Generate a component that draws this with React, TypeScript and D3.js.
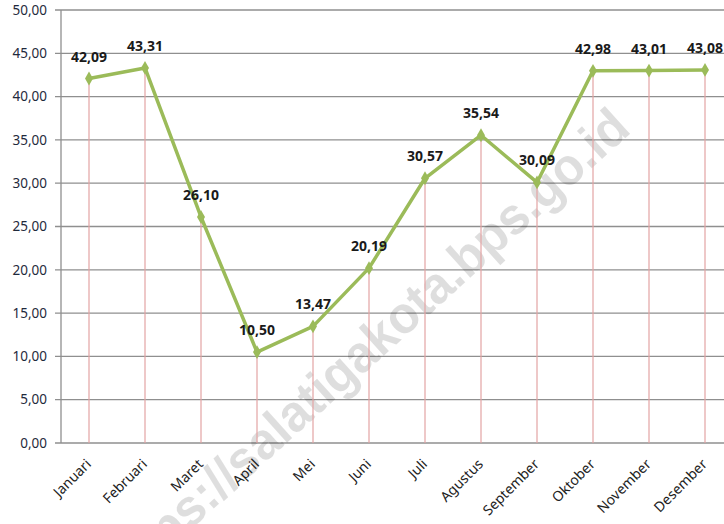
import React, { useEffect, useRef } from 'react';
import * as d3 from 'd3';

// monthly values
const months = ['Januari', 'Februari', 'Maret', 'April', 'Mei', 'Juni', 'Juli', 'Agustus', 'September', 'Oktober', 'November', 'Desember'];
const values = [42.09, 43.31, 26.10, 10.50, 13.47, 20.19, 30.57, 35.54, 30.09, 42.98, 43.01, 43.08];
const yTicks = [0, 5, 10, 15, 20, 25, 30, 35, 40, 45, 50];

const fmt = (v: number) => v.toFixed(2).replace('.', ',');

export default function App() {
  const ref = useRef<SVGSVGElement>(null);

  useEffect(() => {
    const svg = d3.select(ref.current);
    svg.selectAll('*').remove();

    const W = 724, H = 524;
    const left = 61, right = 733, top = 10, bottom = 443;
    const font = "'Noto Sans', sans-serif";

    const x = d3.scaleBand<string>().domain(months).range([left, right]);
    const cx = (m: string) => (x(m) as number) + x.bandwidth() / 2;
    const y = d3.scaleLinear().domain([0, 50]).range([bottom, top]);

    svg.append('rect').attr('width', W).attr('height', H).attr('fill', '#fff');

    // horizontal gridlines
    svg.append('g').selectAll('line')
      .data(yTicks)
      .join('line')
      .attr('x1', left - 6).attr('x2', right)
      .attr('y1', d => y(d)).attr('y2', d => y(d))
      .attr('stroke', '#8f8f8f').attr('stroke-width', 1.3);

    // y axis line
    svg.append('line')
      .attr('x1', left).attr('x2', left)
      .attr('y1', top).attr('y2', bottom)
      .attr('stroke', '#8f8f8f').attr('stroke-width', 1.3);

    // y tick labels
    svg.append('g').selectAll('text')
      .data(yTicks)
      .join('text')
      .attr('x', 47).attr('y', d => y(d))
      .attr('dy', '0.35em')
      .attr('text-anchor', 'end')
      .style('font-family', font).style('font-size', '13.5px')
      .attr('fill', '#1f2a3c')
      .text(d => fmt(d));

    // watermark (behind the series)
    svg.append('text')
      .attr('transform', 'translate(364, 349) rotate(-42)')
      .attr('text-anchor', 'middle')
      .attr('dy', '0.35em')
      .attr('textLength', 690)
      .attr('lengthAdjust', 'spacingAndGlyphs')
      .style('font-family', "'Liberation Sans', sans-serif")
      .style('font-size', '52px').style('font-weight', 'bold')
      .attr('fill', '#000').attr('fill-opacity', 0.13)
      .text('https://salatigakota.bps.go.id');

    // drop lines
    svg.append('g').selectAll('line')
      .data(months)
      .join('line')
      .attr('x1', d => cx(d)).attr('x2', d => cx(d))
      .attr('y1', (d, i) => y(values[i])).attr('y2', bottom)
      .attr('stroke', '#e3a3a3').attr('stroke-width', 1.2);

    // x labels
    svg.append('g').selectAll('text')
      .data(months)
      .join('text')
      .attr('transform', d => `translate(${cx(d) + 3}, ${bottom + 22}) rotate(-45)`)
      .attr('text-anchor', 'end')
      .style('font-family', font).style('font-size', '14px')
      .attr('fill', '#222')
      .text(d => d);

    // line + markers
    const line = d3.line<number>()
      .x((d, i) => cx(months[i]))
      .y(d => y(d));
    svg.append('path')
      .datum(values)
      .attr('d', line)
      .attr('fill', 'none')
      .attr('stroke', '#9bbb59')
      .attr('stroke-width', 3.5)
      .attr('stroke-linejoin', 'round');

    svg.append('g').selectAll('path')
      .data(values)
      .join('path')
      .attr('d', d3.symbol(d3.symbolDiamond, 55))
      .attr('transform', (d, i) => `translate(${cx(months[i])}, ${y(d)})`)
      .attr('fill', '#9bbb59');

    // value labels
    svg.append('g').selectAll('text')
      .data(values)
      .join('text')
      .attr('x', (d, i) => cx(months[i]))
      .attr('y', d => y(d) - 17)
      .attr('text-anchor', 'middle')
      .style('font-family', font).style('font-size', '14px').style('font-weight', 'bold')
      .attr('fill', '#1a1a1a')
      .text(d => fmt(d));
  }, []);

  return (
    <svg ref={ref} width={724} height={524}
      style={{ position: 'absolute', left: 0, top: 0, display: 'block' }} />
  );
}
